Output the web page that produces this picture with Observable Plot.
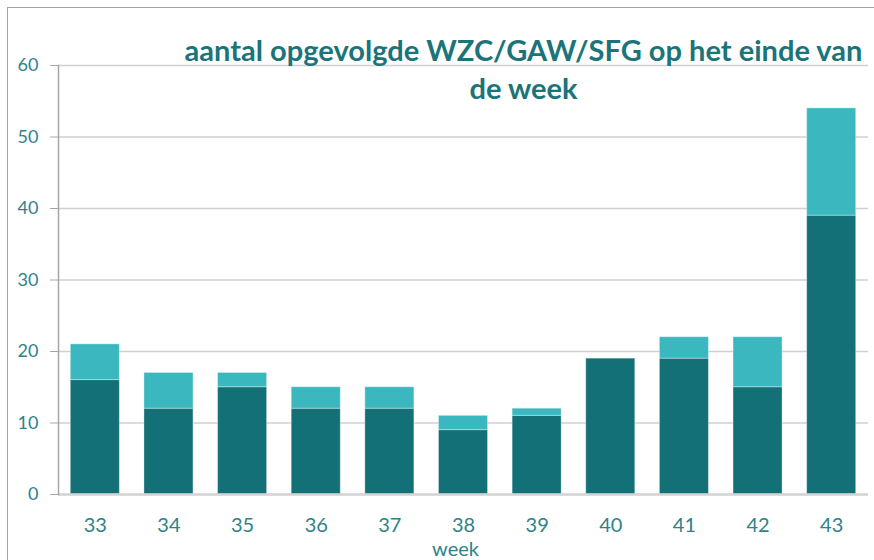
<!DOCTYPE html>
<html><head><meta charset="utf-8">
<script src="https://cdn.jsdelivr.net/npm/d3@7"></script>
<script src="https://cdn.jsdelivr.net/npm/@observablehq/plot@0.6"></script>
<style>
body{margin:0;background:#fff;}
#wrap{position:relative;width:874px;height:560px;overflow:hidden;background:#fff;}
#border{position:absolute;left:7px;top:7px;width:870px;height:560px;border-top:1.5px solid #a3a3a3;border-left:1.5px solid #a3a3a3;pointer-events:none;}
#wrap svg{position:absolute;left:0;top:0;}
</style></head><body><div id="wrap"><div id="border"></div></div>
<script>
const weeks = ["33","34","35","36","37","38","39","40","41","42","43"];
const darkValues = [16, 12, 15, 12, 12, 9, 11, 19, 19, 15, 39];
const lightValues = [5, 5, 2, 3, 3, 2, 1, 0, 3, 7, 15];
const seriesNames = ["deel 1", "deel 2"];
const seriesColors = ["#147077", "#3bb8bf"];
const yTicks = [0, 10, 20, 30, 40, 50, 60];
const titleLines = ["aantal opgevolgde WZC/GAW/SFG op het einde van", "de week"];
const xLabel = "week";

const table = weeks.flatMap((w, i) => [
  {week: w, series: seriesNames[0], value: darkValues[i]},
  {week: w, series: seriesNames[1], value: lightValues[i]}
]);

// fit title font to reference width
const ctx = document.createElement("canvas").getContext("2d");
ctx.font = "bold 100px Lato";
const tw = ctx.measureText(titleLines[0]).width;
const titleSize = Math.min(30, 100 * 679 / tw);

const tickColor = "#2e8389";
const plot = Plot.plot({
  width: 874,
  height: 560,
  marginLeft: 58,
  marginRight: 6,
  marginTop: 65,
  marginBottom: 66,
  style: {fontFamily: "Lato, 'Open Sans', sans-serif", background: "transparent"},
  x: {domain: weeks, paddingInner: 0.334, paddingOuter: 0.167, round: false, label: null},
  y: {domain: [0, 60], label: null},
  color: {domain: seriesNames, range: seriesColors},
  marks: [
    Plot.gridY(yTicks, {stroke: "#d0d0d0", strokeOpacity: 1, strokeWidth: 1.5}),
    Plot.barY(table, {x: "week", y: "value", fill: "series", stroke: "#ffffff", strokeOpacity: 0.35, strokeWidth: 1}),
    Plot.ruleY([0], {stroke: "#d4d4d4", strokeWidth: 2.5}),
    Plot.frame({anchor: "left", stroke: "#a6a6a6", strokeWidth: 1.5}),
    Plot.axisY(yTicks, {tickSize: 8, tickPadding: 12, stroke: "#a6a6a6", fill: tickColor, fontSize: 18, label: null}),
    Plot.axisX({tickSize: 0, tickPadding: 23, fill: tickColor, fontSize: 20, label: null}),
    Plot.text([xLabel], {frameAnchor: "bottom", text: d => d, dx: -8, dy: 55, lineAnchor: "middle", fill: tickColor, fontSize: 20}),
    Plot.text([titleLines.join("\n")], {frameAnchor: "top", text: d => d, dx: 60, dy: -31, lineAnchor: "top", lineHeight: 38 / titleSize, fill: "#1b7479", fontWeight: "bold", fontSize: titleSize})
  ]
});
document.getElementById("wrap").appendChild(plot);
</script>
</body></html>
